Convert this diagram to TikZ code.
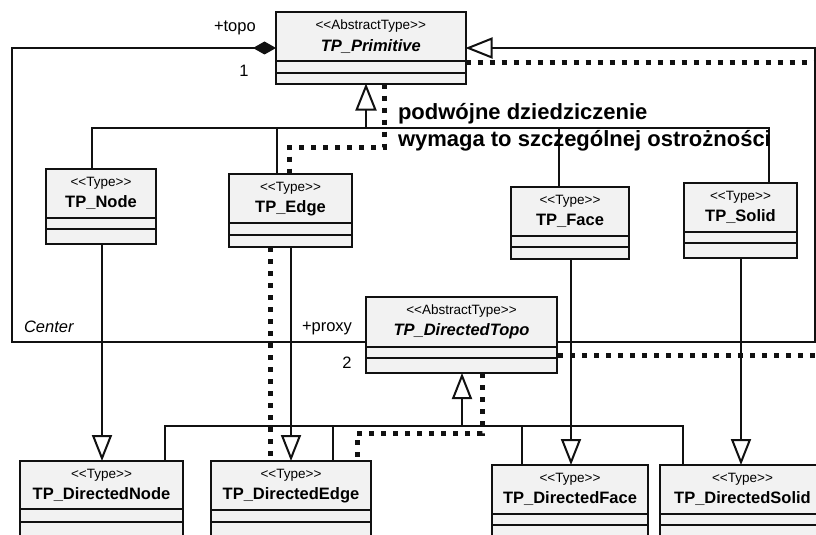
\documentclass[tikz,border=0pt]{standalone}
\usepackage{fontspec}
\setmainfont{Liberation Sans}
\usetikzlibrary{arrows.meta}
\definecolor{boxfill}{HTML}{F2F2F2}
\definecolor{ink}{HTML}{111111}
% guillemet-free stereotype brackets (kerns stop the << >> ligature)
\newcommand\stereotype[1]{<\kern0pt<#1>\kern0pt>}
% class box: name, x1, y1, x2, y2, header line, attribute line, stereotype, title
\newcommand\umlclass[9]{%
  \node[classbox, minimum width={(#4-#2)*1pt}, minimum height={(#5-#3)*1pt}] (#1) at (#2,#3) {};
  \draw[ink] (#2,#6) -- (#4,#6) (#2,#7) -- (#4,#7);
  \node[stereo] (#1-st) at ({(#2+#4)/2},{#3+14}) {\stereotype{#8}};
  \node[cname] (#1-nm) at ({(#2+#4)/2},{#3+34}) {#9};
}
\begin{document}
\begin{tikzpicture}[x=1pt,y=-1pt,
  line width=2pt, line join=miter,
  classbox/.style={draw=ink, fill=boxfill, line width=2pt, inner sep=0pt, outer sep=0pt, anchor=north west},
  stereo/.style={font=\fontsize{13.5}{15}\selectfont, inner sep=0pt},
  cname/.style={font=\fontsize{16.5}{19}\selectfont\bfseries, inner sep=0pt},
  role/.style={font=\fontsize{16.5}{19}\selectfont, inner sep=0pt},
  note/.style={font=\fontsize{22}{26}\selectfont\bfseries, inner sep=0pt, anchor=base west},
  assoc/.style={draw=ink, line width=2pt},
  gen/.style={assoc, -{Triangle[open, fill=white, length=27pt, width=21pt]}},
  gensmall/.style={assoc, -{Triangle[open, fill=white, length=26pt, width=20pt]}},
  compo/.style={assoc, {Diamond[length=23pt, width=13pt]}-},
  dotline/.style={draw=ink, line width=5pt, dash pattern=on 5pt off 7pt},
]
\useasboundingbox (0,0) rectangle (816,535);
\fill[white] (0,0) rectangle (816,535);
\clip (0,0) rectangle (816,535);

% classes
\umlclass{prim}{276}{12.5}{465.5}{83.5}{61.5}{72.5}{AbstractType}{\itshape TP\_Primitive}
\umlclass{node}{46}{169}{156}{244}{218}{229}{Type}{TP\_Node}
\umlclass{edge}{229}{174}{352}{247}{223}{235}{Type}{TP\_Edge}
\umlclass{face}{511}{187}{629}{259}{236}{247}{Type}{TP\_Face}
\umlclass{solid}{684}{183}{797}{258}{232}{243}{Type}{TP\_Solid}
\umlclass{dtopo}{366}{297}{557}{373}{346.5}{357.5}{AbstractType}{\itshape TP\_DirectedTopo}
\umlclass{dnode}{20}{461}{183}{560}{509}{522}{Type}{TP\_DirectedNode}
\umlclass{dedge}{211}{461}{371}{560}{510}{522}{Type}{TP\_DirectedEdge}
\umlclass{dface}{492}{465}{648}{560}{514}{525}{Type}{TP\_DirectedFace}
\umlclass{dsolid}{660}{465}{825}{560}{514}{525}{Type}{TP\_DirectedSolid}

% bend points
\coordinate (topoL) at (12,48);
\coordinate (centerL) at (12,342);
\coordinate (genR1) at (815,342);
\coordinate (genR2) at (815,48);
\coordinate (dotR1) at (830,63);
\coordinate (dotR2) at (830,355);
\coordinate (primJ) at (366,128);
\coordinate (topoJ) at (462,426);

% composition TP_Primitive <>-- TP_DirectedTopo
\draw[compo] (prim.west) -- (topoL) -- (centerL) -- (dtopo.west |- centerL);
% TP_DirectedTopo specialises TP_Primitive
\draw[gen] (dtopo.east |- genR1) -- (genR1) -- (genR2) -- (prim.east);
\draw[dotline] (prim.east |- dotR1) -- (dotR1) -- (dotR2) -- (dtopo.east |- dotR2);

% inheritance tree under TP_Primitive
\draw[gen] (primJ) -- (primJ |- prim.south);
\draw[assoc] (node.north -| 92,0) -- (92,128) -- (769,128) -- (solid.north -| 769,0);
\draw[assoc] (edge.north -| 277,0) -- (277,128);
\draw[assoc] (face.north -| 559,0) -- (559,128);
\draw[dotline] (prim.south -| 384,0) -- (384,147) -- (289,147) -- (edge.north -| 289,0);

% direct specialisations
\draw[gensmall] (node.south -| 102,0) -- (dnode.north -| 102,0);
\draw[gensmall] (edge.south -| 291,0) -- (dedge.north -| 291,0);
\draw[gensmall] (face.south -| 571,0) -- (dface.north -| 571,0);
\draw[gensmall] (solid.south -| 741,0) -- (dsolid.north -| 741,0);
\draw[dotline] (edge.south -| 270,0) -- (dedge.north -| 270,0);

% inheritance tree under TP_DirectedTopo
\draw[gensmall] (topoJ) -- (topoJ |- dtopo.south);
\draw[assoc] (dnode.north -| 165,0) -- (165,426) -- (683,426) -- (dsolid.north -| 683,0);
\draw[assoc] (dedge.north -| 333,0) -- (333,426);
\draw[assoc] (dface.north -| 522,0) -- (522,426);
\draw[dotline] (dtopo.south -| 482,0) -- (482,433) -- (357,433) -- (dedge.north -| 357,0);

% role names and multiplicities
\node[role, anchor=base west] (lTopo) at (213,32) {+topo};
\node[role, anchor=base] (lOne) at (244,77) {1};
\node[role, anchor=base west] (lProxy) at (301,331) {+proxy};
\node[role, anchor=base] (lTwo) at (347,368) {2};
\node[role, anchor=base west] (lCenter) at (23,332) {\itshape Center};

% remark
\node[note] (rem1) at (397,119) {podwójne dziedziczenie};
\node[note] (rem2) at (397,146) {wymaga to szczególnej ostrożności};
\end{tikzpicture}
\end{document}
